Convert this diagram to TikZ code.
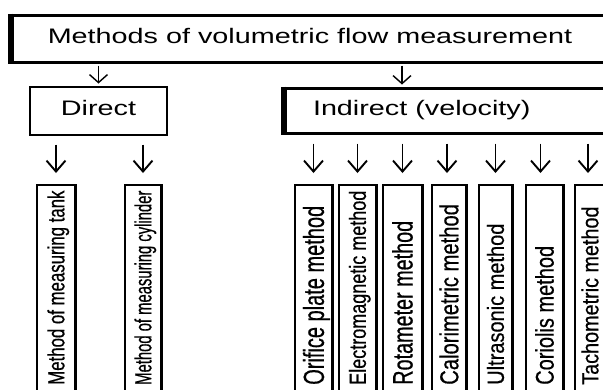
\documentclass[tikz,border=0pt]{standalone}
\usepackage{fontspec}
\setmainfont{Liberation Sans}
\newfontfamily\vfont{Liberation Sans}[FakeBold=0.6]
\usetikzlibrary{arrows.meta}
\newcommand\vtext[3]{\makebox[184pt][l]{\scalebox{#1}[#2]{\vfont\fontsize{20}{24}\selectfont #3}}}
\newcommand\htext[1]{\scalebox{1.37}[1]{\fontsize{21}{25}\selectfont #1}}
\begin{document}
\begin{tikzpicture}[x=1pt,y=1pt,
  boxA/.style={draw, line width=#1, inner sep=0pt, text height=15pt, text depth=5pt},
  vbox/.style={draw, line width=1.5pt, rotate=90, anchor=east, minimum width=216pt,
               inner xsep=16pt, inner ysep=0pt, text depth=0pt},
  heavy/.style={line width=#1},
  arrT/.style={-{Straight Barb[length=8pt,width=18pt]}, line width=1.4pt, shorten <=2pt, shorten >=2pt},
  arrB/.style={-{Straight Barb[length=11pt,width=19pt]}, line width=1.9pt, shorten <=9pt, shorten >=11pt}]
\useasboundingbox (0,0) rectangle (603,-389);
\clip (0,0) rectangle (603,-389);

\node[boxA=3pt, minimum width=596pt, minimum height=47pt] (top) at (310,-38.5)
  {\htext{Methods of volumetric flow measurement}};
\node[boxA=2pt, minimum width=137pt, minimum height=48pt] (direct) at (98.5,-110.5)
  {\htext{Direct}};
\node[boxA=3pt, minimum width=330pt, minimum height=45pt, inner xsep=28pt] (indirect) at (450,-110.5)
  {\makebox[274pt][l]{\htext{Indirect (velocity)}}};
\draw[heavy=5pt] (top.north west) -- (top.south west);
\draw[heavy=5pt] (indirect.north west) -- (indirect.south west);

\node[vbox, minimum height=38pt, text height=16.75pt] (tank) at (56,-184)
  {\vtext{0.84}{1.17}{Method of measuring tank}};
\node[vbox, minimum height=36pt, text height=16.75pt] (cyl) at (143,-184)
  {\vtext{0.74}{1.17}{Method of measuring cylinder}};
\node[vbox, minimum height=37pt, text height=20.8pt] (orif) at (313.5,-184)
  {\vtext{1.0}{1.45}{Orifice plate method}};
\node[vbox, minimum height=37pt, text height=16.75pt] (elec) at (357.5,-184)
  {\vtext{0.90}{1.17}{Electromagnetic method}};
\node[vbox, minimum height=39pt, text height=20pt] (rota) at (402.5,-184)
  {\vtext{0.99}{1.4}{Rotameter method}};
\node[vbox, minimum height=34pt, text height=18.6pt] (calo) at (449,-184)
  {\vtext{1.01}{1.3}{Calorimetric method}};
\node[vbox, minimum height=33pt, text height=16.75pt] (ultra) at (495.5,-184)
  {\vtext{1.0}{1.17}{Ultrasonic method}};
\node[vbox, minimum height=37pt, text height=18.3pt] (cori) at (544.5,-184)
  {\vtext{1.0}{1.28}{Coriolis method}};
\node[vbox, minimum height=30pt, text height=16.75pt] (tach) at (590,-184)
  {\vtext{0.99}{1.17}{Tachometric method}};

\foreach \n in {tank,cyl,orif,elec,rota,calo,ultra,cori}
  \draw[heavy=2.5pt] (\n.south west) -- (\n.south east);

\draw[arrT] (direct.north |- top.south) -- (direct.north);
\draw[arrT] ([xshift=-48pt]indirect.north |- top.south) -- ([xshift=-48pt]indirect.north);

\draw[arrB] (tank.east |- direct.south) -- (tank.east);
\draw[arrB] (cyl.east |- direct.south) -- (cyl.east);
\draw[arrB] (orif.east |- indirect.south) -- (orif.east);
\draw[arrB] (elec.east |- indirect.south) -- (elec.east);
\draw[arrB] (rota.east |- indirect.south) -- (rota.east);
\draw[arrB] ([xshift=-2pt]calo.east |- indirect.south) -- ([xshift=-2pt]calo.east);
\draw[arrB] (ultra.east |- indirect.south) -- (ultra.east);
\draw[arrB] ([xshift=-4pt]cori.east |- indirect.south) -- ([xshift=-4pt]cori.east);
\draw[arrB] ([xshift=-2pt]tach.east |- indirect.south) -- ([xshift=-2pt]tach.east);
\end{tikzpicture}
\end{document}
